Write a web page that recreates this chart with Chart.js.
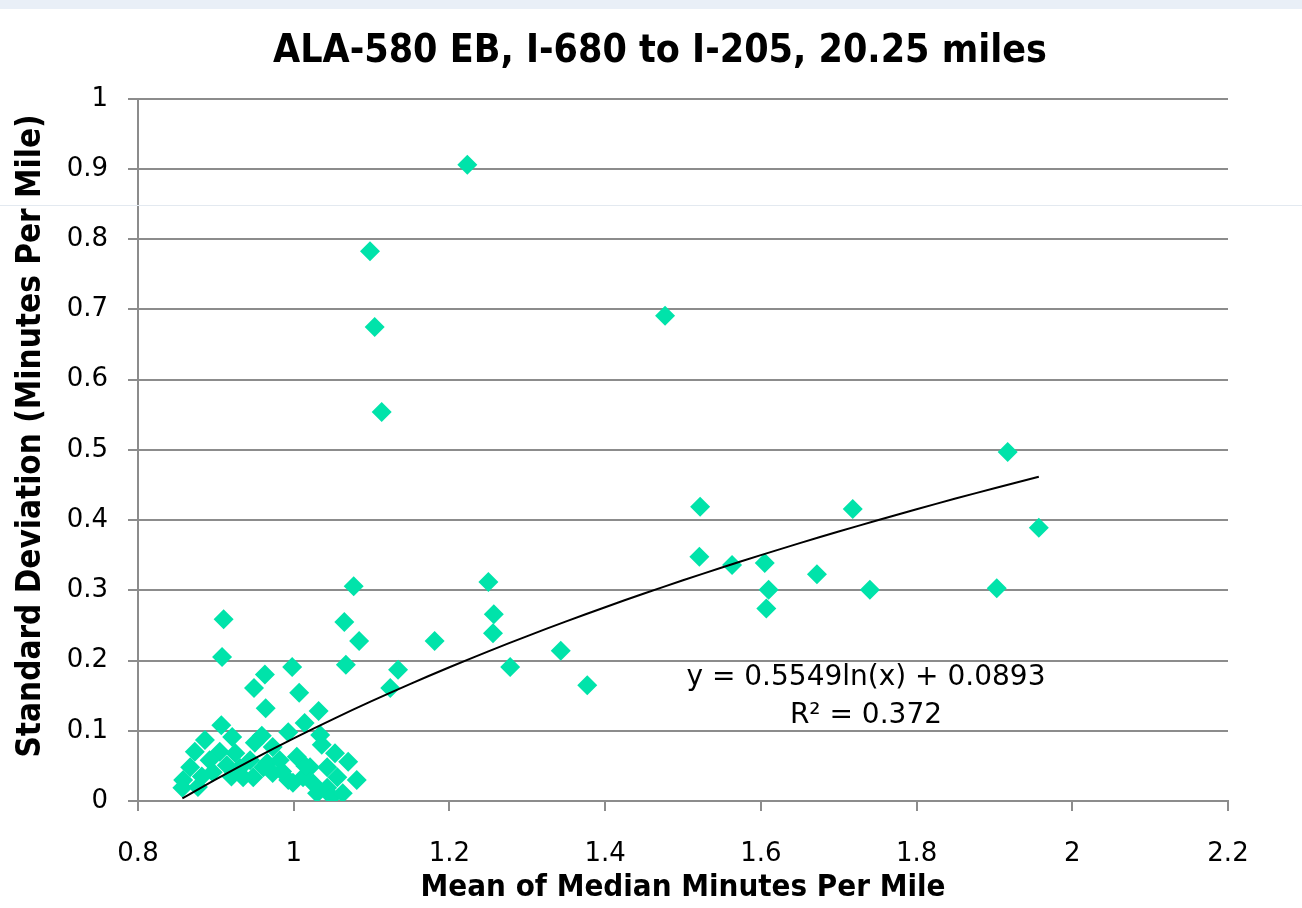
<!DOCTYPE html>
<html lang="en">
<head>
    <meta charset="UTF-8">
    <title>ALA-580 EB, I-680 to I-205</title>
    <style>
        body { margin: 0; background: #fff; }
        .wrap { position: relative; width: 1302px; height: 908px; }
        /* faint band and line seen in the source screenshot */
        .band { position: absolute; left: 0; top: 0; width: 1302px; height: 9px; background: #e9eff7; }
        .hline { position: absolute; left: 0; top: 205px; width: 1302px; height: 1px; background: #e3e9f0; }
    </style>
    <script src="https://cdn.jsdelivr.net/npm/chart.js"></script>
</head>
<body>
    <div class="wrap">
        <canvas id="sdChart" width="1302" height="908"></canvas>
        <div class="band"></div>
        <div class="hline"></div>
    </div>

    <script>
        // Mean of median minutes per mile (x) and standard deviation (y)
        const meanMinutes = [
            1.223, 1.098, 1.104, 1.113, 1.477, 1.917, 1.522, 1.718, 1.957, 1.521,
            1.563, 1.605, 1.672, 1.610, 1.607, 1.740, 1.903, 1.250, 1.257, 1.256,
            1.278, 1.343, 1.377, 1.181,
            1.077, 1.065, 1.084, 1.067, 1.134, 1.124,
            0.910, 0.908, 0.963, 0.949, 0.998, 1.007, 0.964, 1.032, 1.014, 0.907,
            0.993, 0.959, 1.034,
            0.886, 0.921, 0.873, 0.905, 0.925, 0.892, 0.867, 0.914, 0.858, 0.877,
            0.857, 0.896, 0.931, 0.948, 0.950, 0.944, 0.935, 0.966,
            0.973, 1.036, 0.961, 0.982, 1.004, 0.993, 1.012, 1.021, 1.053, 1.070,
            1.081, 1.056, 1.043, 1.049, 1.030, 0.999, 1.043, 1.063, 0.973,
            1.025, 1.015, 0.985, 0.920, 0.882
        ];
        const stdDev = [
            0.906, 0.783, 0.675, 0.554, 0.691, 0.497, 0.419, 0.416, 0.389, 0.348,
            0.336, 0.339, 0.323, 0.301, 0.274, 0.301, 0.303, 0.312, 0.266, 0.239,
            0.191, 0.214, 0.165, 0.228,
            0.306, 0.255, 0.228, 0.194, 0.187, 0.161,
            0.259, 0.205, 0.180, 0.161, 0.191, 0.154, 0.132, 0.128, 0.111, 0.108,
            0.098, 0.093, 0.094,
            0.087, 0.091, 0.070, 0.070, 0.068, 0.058, 0.048, 0.051, 0.030, 0.020,
            0.019, 0.041, 0.047, 0.034, 0.083, 0.058, 0.034, 0.054,
            0.077, 0.080, 0.048, 0.058, 0.063, 0.030, 0.034, 0.048, 0.068, 0.056,
            0.030, 0.034, 0.019, 0.006, 0.011, 0.026, 0.048, 0.011, 0.040,
            0.025, 0.050, 0.042, 0.035, 0.035
        ];

        // Logarithmic trendline as printed on the chart: y = a ln(x) + b
        const trendA = 0.5549;
        const trendB = 0.0893;
        const trendR2 = 0.372;
        const trendX = [0.857, 0.9, 0.95, 1.0, 1.05, 1.1, 1.15, 1.2, 1.25, 1.3, 1.35, 1.4,
                        1.45, 1.5, 1.55, 1.6, 1.65, 1.7, 1.75, 1.8, 1.85, 1.9, 1.957];

        const xTicks = [0.8, 1, 1.2, 1.4, 1.6, 1.8, 2, 2.2];

        const yAxisTitle = 'Standard Deviation (Minutes Per Mile)';

        const tickFont = { family: "'DejaVu Sans', Verdana, sans-serif", size: 26 };
        const boldFont = "'DejaVu Sans Condensed', 'Liberation Sans Narrow', 'DejaVu Sans', sans-serif";

        const points = meanMinutes.map((x, i) => ({ x: x, y: stdDev[i] }));
        const trendPoints = trendX.map(x => ({ x: x, y: trendA * Math.log(x) + trendB }));

        // Equation and R² text in data coordinates, plus the y axis title
        const extraText = {
            id: 'extraText',
            afterLayout(chart) {
                // title is centred a little right of the canvas middle in the original
                chart.titleBlock.left = 92;
            },
            afterDatasetsDraw(chart) {
                const { ctx, scales } = chart;
                const cx = scales.x.getPixelForValue(1.735);
                ctx.save();
                ctx.font = "28px 'DejaVu Sans', Verdana, sans-serif";
                ctx.fillStyle = '#000';
                ctx.textAlign = 'center';
                ctx.textBaseline = 'middle';
                ctx.fillText('y = ' + trendA + 'ln(x) + ' + trendB, cx, scales.y.getPixelForValue(0.175));
                ctx.fillText('R² = ' + trendR2, cx, scales.y.getPixelForValue(0.121));

                ctx.translate(31, 436);
                ctx.rotate(-Math.PI / 2);
                ctx.font = 'bold 33px ' + boldFont;
                ctx.fillText(yAxisTitle, 0, 0);
                ctx.restore();
            }
        };

        const ctx = document.getElementById('sdChart').getContext('2d');
        const chart = new Chart(ctx, {
            type: 'scatter',
            data: {
                datasets: [
                    {
                        type: 'line',
                        label: 'Log trend',
                        data: trendPoints,
                        borderColor: '#000',
                        borderWidth: 2,
                        pointRadius: 0,
                        fill: false,
                        tension: 0.4
                    },
                    {
                        label: 'Standard deviation',
                        data: points,
                        pointStyle: 'rectRot',
                        pointRadius: 10,
                        pointBorderWidth: 0,
                        backgroundColor: '#00E3AA',
                        borderColor: '#00E3AA'
                    }
                ]
            },
            options: {
                responsive: false,
                animation: false,
                layout: { padding: { left: 0, right: 74, top: 0, bottom: 0 } },
                plugins: {
                    legend: { display: false },
                    tooltip: { enabled: false },
                    title: {
                        display: true,
                        text: 'ALA-580 EB, I-680 to I-205, 20.25 miles',
                        color: '#000',
                        font: { family: boldFont, size: 39, weight: 'bold' },
                        padding: { top: 28, bottom: 24 }
                    }
                },
                scales: {
                    x: {
                        type: 'linear',
                        min: 0.8,
                        max: 2.2,
                        afterBuildTicks: scale => { scale.ticks = xTicks.map(v => ({ value: v })); },
                        afterFit: scale => { scale.height = 107; },
                        ticks: {
                            color: '#000',
                            font: tickFont,
                            padding: 28,
                            maxRotation: 0,
                            callback: v => String(v)
                        },
                        grid: {
                            drawOnChartArea: false,
                            drawTicks: true,
                            tickLength: 10,
                            color: '#8c8c8c',
                            lineWidth: 2
                        },
                        border: { color: '#8c8c8c', width: 2 },
                        title: {
                            display: true,
                            text: 'Mean of Median Minutes Per Mile',
                            color: '#000',
                            font: { family: boldFont, size: 31, weight: 'bold' },
                            padding: { top: 0, bottom: 1 }
                        }
                    },
                    y: {
                        min: 0,
                        max: 1,
                        afterFit: scale => { scale.width = 138; },
                        ticks: {
                            stepSize: 0.1,
                            color: '#000',
                            font: tickFont,
                            padding: 20,
                            callback: v => String(Math.round(v * 10) / 10)
                        },
                        grid: {
                            color: '#8c8c8c',
                            lineWidth: 2,
                            drawTicks: true,
                            tickLength: 10
                        },
                        border: { color: '#8c8c8c', width: 2 }
                    }
                }
            },
            plugins: [extraText]
        });
    </script>
</body>
</html>
